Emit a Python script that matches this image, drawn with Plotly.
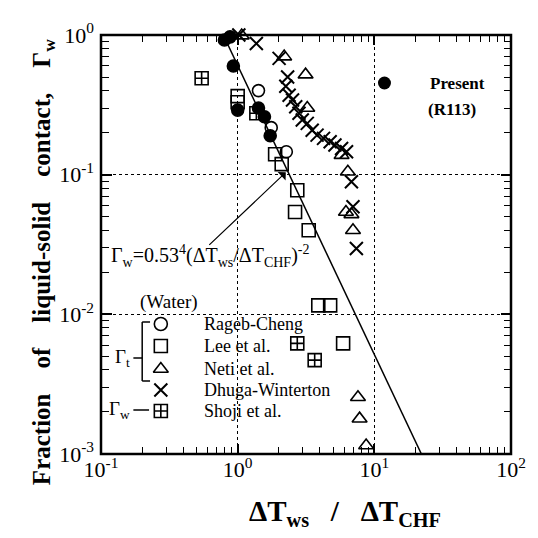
import plotly.graph_objects as go
import numpy as np

# ---------------- data ----------------
present_x = [0.80, 0.88, 0.93, 1.00, 1.42, 1.57, 1.73]
present_y = [0.92, 0.97, 0.60, 0.29, 0.30, 0.26, 0.19]

rageb_x = [1.42, 1.76, 2.27]
rageb_y = [0.40, 0.217, 0.146]

lee_x = [1.00, 1.00, 1.88, 2.10, 2.73, 2.63, 3.31, 3.89, 4.75, 5.91]
lee_y = [0.365, 0.33, 0.140, 0.119, 0.0774, 0.054, 0.040, 0.0116, 0.0116, 0.0062]

neti_x = [1.07, 2.19, 3.14, 3.23, 5.76, 6.40, 6.20, 6.80, 6.98, 7.59, 7.80, 8.71]
neti_y = [0.99, 0.70, 0.52, 0.30, 0.138, 0.105, 0.054, 0.052, 0.040, 0.00255, 0.00179, 0.00115]

dhuga_x = [1.02, 1.37, 2.01, 2.32, 2.25, 2.38, 2.52, 2.66, 2.81, 2.97, 3.23, 3.51,
           3.81, 4.25, 4.75, 5.15, 5.76, 6.26, 6.80, 6.98, 7.39]
dhuga_y = [1.00, 0.87, 0.68, 0.50, 0.43, 0.37, 0.342, 0.306, 0.275, 0.246, 0.233, 0.208,
           0.192, 0.182, 0.172, 0.163, 0.154, 0.146, 0.089, 0.059, 0.0296]

shoji_x = [0.545, 1.37, 2.73, 3.66]
shoji_y = [0.49, 0.275, 0.0062, 0.0047]

# correlation line endpoints
line_x = [0.785, 22.1]
line_y = [1.0, 0.001]

xtick_vals = [0.1, 1, 10, 100]
xtick_text = ["10<sup>-1</sup>", "10<sup>0</sup>", "10<sup>1</sup>", "10<sup>2</sup>"]
ytick_vals = [0.001, 0.01, 0.1, 1]
ytick_text = ["10<sup>-3</sup>", "10<sup>-2</sup>", "10<sup>-1</sup>", "10<sup>0</sup>"]
x_minor_vals = [m * 10.0 ** e for e in (-1, 0, 1) for m in range(2, 10)]
y_minor_vals = [m * 10.0 ** e for e in (-3, -2, -1) for m in range(2, 10)]

legend_names = ["Rageb-Cheng", "Lee et al.", "Neti et al.", "Dhuga-Winterton", "Shoji et al."]
legend_symbols = ["circle-open", "square-open", "triangle-up-open", "x-thin-open", "square-cross-open"]

FONT = "Liberation Serif"
BLK = "black"
XR = [-1, 2]
YR = [-3, 0]

fig = go.Figure()

fig.add_trace(go.Scatter(x=line_x, y=line_y, mode="lines",
                         line=dict(color=BLK, width=1.5), showlegend=False))

def mk(x, y, sym, size, lw=1.6, color=BLK):
    fig.add_trace(go.Scatter(x=x, y=y, mode="markers", showlegend=False, cliponaxis=False,
                             marker=dict(symbol=sym, size=size, color=color,
                                         line=dict(color=BLK, width=lw))))

mk(rageb_x, rageb_y, "circle-open", 12)
mk(lee_x, lee_y, "square-open", 13)
mk(neti_x, neti_y, "triangle-up-open", 13)
mk(dhuga_x, dhuga_y, "x-thin-open", 13, lw=2)
mk(shoji_x, shoji_y, "square-cross-open", 13)
mk(present_x, present_y, "circle", 12)

# ----- layout helpers: pixel position -> paper fraction -> log-axis position -----
L, R, T, B = 101, 19, 35, 84
W = 538 - L - R
H = 538 - T - B

def px(xp):
    return (xp - L) / W

def py(yp):
    return (538 - B - yp) / H

def lx(xp):  # legend symbol position on the log x axis
    return 10 ** (XR[0] + (XR[1] - XR[0]) * px(xp))

def ly(yp):
    return 10 ** (YR[0] + (YR[1] - YR[0]) * py(yp))

leg_rows = [324, 346, 369, 390, 411]
for name, sym, yr in zip(legend_names, legend_symbols, leg_rows):
    fig.add_trace(go.Scatter(x=[lx(162)], y=[ly(yr)], mode="markers",
                             showlegend=False, cliponaxis=False,
                             marker=dict(symbol=sym, size=13, color=BLK,
                                         line=dict(color=BLK, width=2 if "x-" in sym else 1.6))))
    fig.add_annotation(xref="paper", yref="paper", x=px(204), y=py(yr), text=name,
                       showarrow=False, xanchor="left", yanchor="middle",
                       font=dict(family=FONT, size=18, color=BLK))

fig.add_trace(go.Scatter(x=[lx(390)], y=[ly(83)], mode="markers",
                         showlegend=False, cliponaxis=False,
                         marker=dict(symbol="circle", size=13, color=BLK)))
fig.add_annotation(xref="paper", yref="paper", x=px(434), y=py(83), text="<b>Present</b>",
                   showarrow=False, xanchor="left", yanchor="middle",
                   font=dict(family=FONT, size=17, color=BLK))
fig.add_annotation(xref="paper", yref="paper", x=px(432), y=py(109), text="<b>(R113)</b>",
                   showarrow=False, xanchor="left", yanchor="middle",
                   font=dict(family=FONT, size=17, color=BLK))

fig.add_annotation(xref="paper", yref="paper", x=px(170), y=py(302), text="(Water)",
                   showarrow=False, xanchor="center", yanchor="middle",
                   font=dict(family=FONT, size=19, color=BLK))

# bracket for Gamma_t and dash for Gamma_w
for (x0, y0, x1, y1) in [(143, 322, 143, 381), (143, 322, 151, 322), (143, 381, 151, 381),
                         (134, 358, 143, 358), (134, 410, 150, 410)]:
    fig.add_shape(type="line", xref="paper", yref="paper", x0=px(x0), y0=py(y0), x1=px(x1), y1=py(y1),
                  line=dict(color=BLK, width=1.5))
fig.add_annotation(xref="paper", yref="paper", x=px(133), y=py(358), text="Γ<sub>t</sub>",
                   showarrow=False, xanchor="right", yanchor="middle",
                   font=dict(family=FONT, size=19, color=BLK))
fig.add_annotation(xref="paper", yref="paper", x=px(133), y=py(410), text="Γ<sub>w</sub>",
                   showarrow=False, xanchor="right", yanchor="middle",
                   font=dict(family=FONT, size=19, color=BLK))

# frame
fig.add_shape(type="rect", xref="paper", yref="paper", x0=0, y0=0, x1=1, y1=1,
              line=dict(color=BLK, width=2.5), layer="above")

# formula with arrow
fig.add_annotation(xref="paper", yref="paper", x=px(109), y=py(256),
                   text="Γ<sub>w</sub>=0.53<sup>4</sup>(ΔT<sub>ws</sub>/ΔT<sub>CHF</sub>)<sup>-2</sup>",
                   showarrow=False, xanchor="left", yanchor="middle",
                   font=dict(family=FONT, size=20, color=BLK))
fig.add_annotation(x=np.log10(2.25), y=np.log10(0.104), xref="x", yref="y",
                   ax=-78, ay=74, showarrow=True, arrowhead=1, arrowsize=1.6, arrowwidth=1.2,
                   arrowcolor=BLK, text="")

# axis titles as annotations
fig.add_annotation(xref="paper", yref="paper", x=px(350), y=py(513),
                   text="<b>ΔT<sub>ws</sub>&nbsp;&nbsp;&nbsp;/&nbsp;&nbsp;&nbsp;ΔT<sub>CHF</sub></b>",
                   showarrow=False, xanchor="center", yanchor="middle",
                   font=dict(family=FONT, size=29, color=BLK))
sp = "&nbsp;" * 4
fig.add_annotation(xref="paper", yref="paper", x=px(42), y=py(262), textangle=-90,
                   text="<b>Fraction" + sp + "of" + sp + "liquid-solid" + sp + "contact," + sp + "Γ<sub>w</sub></b>",
                   showarrow=False, xanchor="center", yanchor="middle",
                   font=dict(family=FONT, size=25, color=BLK))

# invisible traces on the tick-only axes: (x3 top, y3 right) and (x3, y4 left-free)
fig.add_trace(go.Scatter(x=[1], y=[0.1], xaxis="x3", yaxis="y3", mode="markers",
                         marker=dict(size=1, opacity=0), hoverinfo="skip", showlegend=False))
fig.add_trace(go.Scatter(x=[1], y=[0.1], xaxis="x3", yaxis="y4", mode="markers",
                         marker=dict(size=1, opacity=0), hoverinfo="skip", showlegend=False))

tick_in = dict(ticks="inside", ticklen=10, tickwidth=1.5, tickcolor=BLK)
tick_out = dict(ticks="outside", ticklen=10, tickwidth=1.5, tickcolor=BLK)

def minor(vals, direction="inside"):
    return dict(tickmode="array", tickvals=vals, ticks=direction, ticklen=7,
                tickwidth=1.3, tickcolor=BLK, showgrid=False)

grid_common = dict(type="log", showline=False, showgrid=True, gridcolor=BLK, gridwidth=1.3,
                   griddash="dot", zeroline=False, tickfont=dict(family=FONT, size=22, color=BLK))

fig.update_layout(
    width=538, height=538, margin=dict(l=L, r=R, t=T, b=B),
    paper_bgcolor="white", plot_bgcolor="white", showlegend=False,
    xaxis=dict(grid_common, range=XR, tickvals=xtick_vals, ticktext=xtick_text,
               minor=minor(x_minor_vals), **tick_in),
    yaxis=dict(grid_common, range=YR, tickvals=ytick_vals, ticktext=ytick_text,
               ticks="", ticklabelstandoff=6),
    xaxis3=dict(type="log", overlaying="x", side="top", anchor="y3", range=XR,
                tickvals=xtick_vals, showticklabels=False, showgrid=False, showline=False,
                zeroline=False, minor=minor(x_minor_vals), **tick_in),
    yaxis3=dict(type="log", overlaying="y", side="right", anchor="x3", range=YR,
                tickvals=ytick_vals, showticklabels=False, showgrid=False, showline=False,
                zeroline=False, minor=minor(y_minor_vals), **tick_in),
    yaxis4=dict(type="log", overlaying="y", side="right", anchor="free", position=0, range=YR,
                tickvals=ytick_vals, showticklabels=False, showgrid=False, showline=False,
                zeroline=False, minor=minor(y_minor_vals, "outside"), **tick_out),
)

fig.write_html("out.html")
